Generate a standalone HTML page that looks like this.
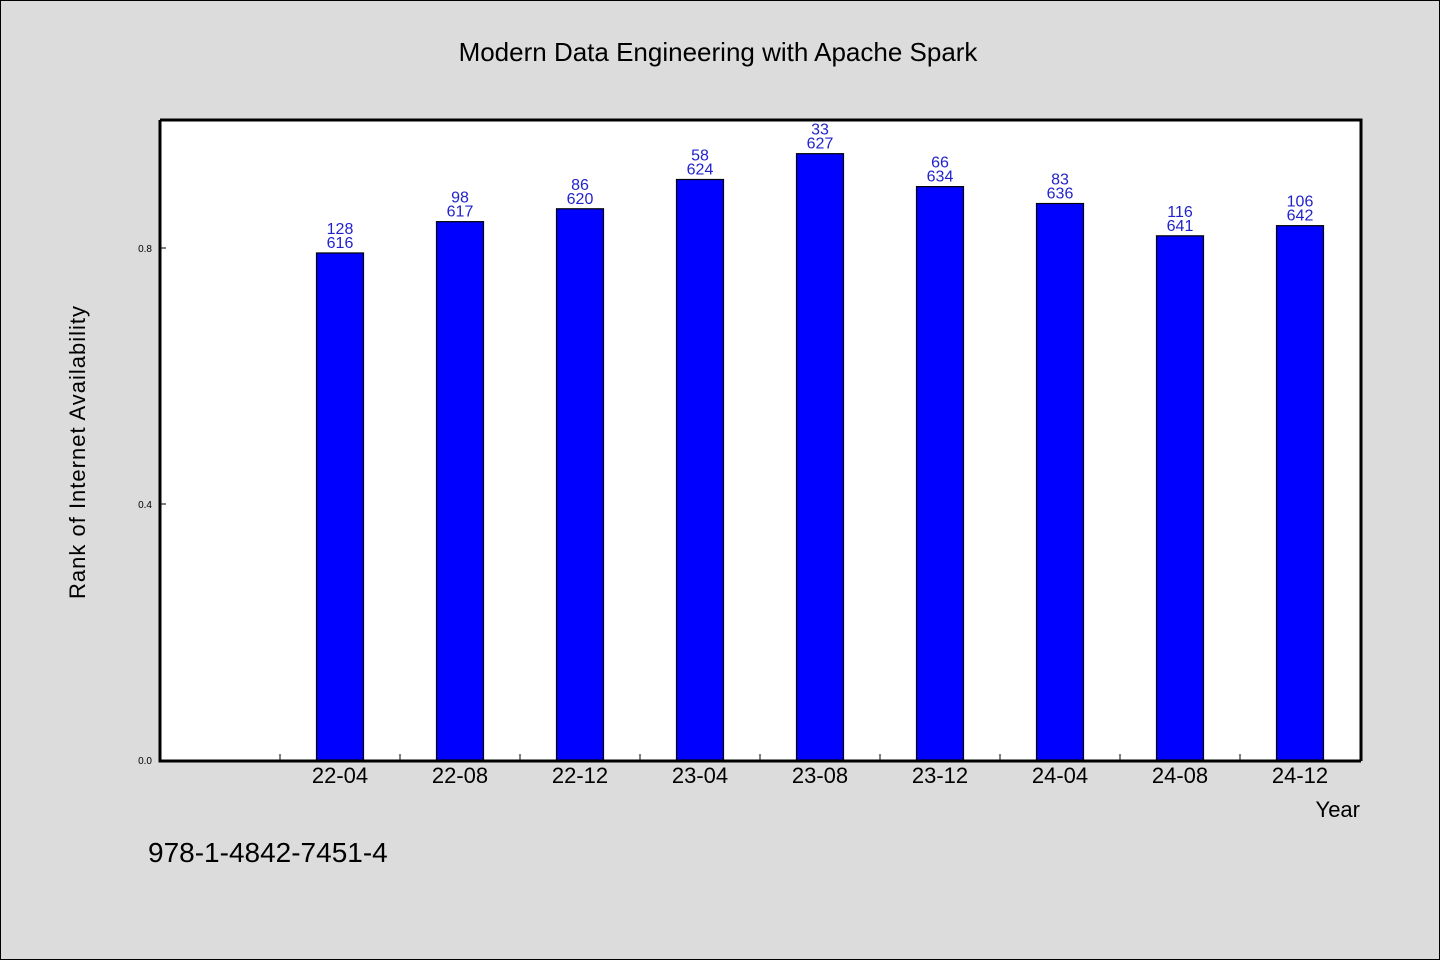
<!DOCTYPE html>
<html><head><meta charset="utf-8"><style>
body{margin:0;background:#dcdcdc;}
svg{display:block;font-family:"WenQuanYi Zen Hei","Liberation Sans",sans-serif;}
</style></head><body>
<svg id="c" width="1440" height="960">
<rect x="0.5" y="0.5" width="1439" height="959" fill="#dcdcdc" stroke="#000"/>
<text x="718" y="61" font-size="26" text-anchor="middle">Modern Data Engineering with Apache Spark</text>
<rect x="160" y="120" width="1201" height="640" fill="#fff"/>
<g id="marks"></g>
<path d="M160,120 H1361 V761 M160,120 V761 H1361" fill="none" stroke="#000" stroke-width="3"/>
<text transform="translate(85,452) rotate(-90)" font-size="22" text-anchor="middle" letter-spacing="1">Rank of Internet Availability</text>
<text x="1360" y="817" font-size="22" text-anchor="end">Year</text>
<text x="148" y="862" font-size="28">978-1-4842-7451-4</text>
</svg>
<script>
const categories=["22-04","22-08","22-12","23-04","23-08","23-12","24-04","24-08","24-12"];
const ranks=[128,98,86,58,33,66,83,116,106];
const totals=[616,617,620,624,627,634,636,641,642];
const yTicks=[0.0,0.4,0.8];
const NS="http://www.w3.org/2000/svg";
const g=document.getElementById('marks');
const x0=160,bandW=120,firstBand=280;
const yS=v=>760-v*640;
const xC=i=>firstBand+bandW*i+bandW/2;
function mk(t,a,txt){const e=document.createElementNS(NS,t);for(const k in a)e.setAttribute(k,a[k]);if(txt!==undefined)e.textContent=txt;g.appendChild(e);return e;}
yTicks.forEach(v=>{
 const y=yS(v);
 const l=mk('line',{x1:160,x2:166,y1:y,y2:y,stroke:'#000'});
 
 
 const t=mk('text',{x:152,y:y+4,'font-size':10,'text-anchor':'end'},v.toFixed(1));
 
 
});
for(let i=0;i<=categories.length;i++){
 const x=firstBand+bandW*i;
 const l=mk('line',{x1:x,x2:x,y1:760,y2:754,stroke:'#000'});
 
 
}
categories.forEach((c,i)=>{
 const v=1-ranks[i]/totals[i];
 const y=yS(v),bw=47;
 const r=mk('rect',{x:xC(i)-bw/2,y:y,width:bw,height:760-y,fill:'#0000ff',stroke:'#000','stroke-width':1.2});
 
 
 const t1=mk('text',{x:xC(i),y:y-19,'font-size':16,'text-anchor':'middle',fill:'#2222cc'},String(ranks[i]));
 
 
 const t2=mk('text',{x:xC(i),y:y-5,'font-size':16,'text-anchor':'middle',fill:'#2222cc'},String(totals[i]));
 
 
 const xl=mk('text',{x:xC(i),y:783,'font-size':22,'text-anchor':'middle'},c);
 
 
});
</script>
</body></html>
